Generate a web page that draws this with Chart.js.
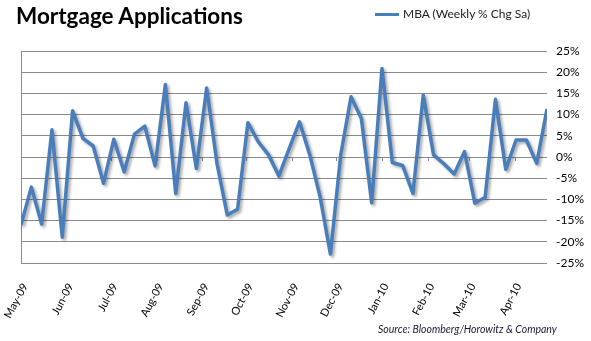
<!DOCTYPE html>
<html>
<head>
<meta charset="utf-8">
<script src="https://cdn.jsdelivr.net/npm/chart.js@4"></script>
<style>
    body { margin: 0; background: #fff; }
    #wrap { position: relative; width: 591px; height: 341px; font-family: Lato, 'Open Sans', sans-serif; }
    #title { position: absolute; left: 16px; top: 2px; font-size: 22.5px; font-weight: bold; color: #000; }
    #legend { position: absolute; left: 375px; top: 6px; font-size: 12px; color: #222; }
    #legend span { display: inline-block; width: 24px; height: 3px; background: #4a7ebb; vertical-align: middle; margin-right: 4px; }
    #source { position: absolute; left: 378px; top: 323px; font-size: 10.5px; font-style: italic; color: #1a1a33; }
</style>
</head>
<body>
<div id="wrap">
    <canvas id="mbaChart"></canvas>
    <div id="title">Mortgage Applications</div>
    <div id="legend"><span></span>MBA (Weekly % Chg Sa)</div>
    <div id="source">Source: Bloomberg/Horowitz &amp; Company</div>
</div>
<script>
// Data mingguan MBA (perubahan % mingguan)
const weekDates = [
    '2009-05-06', '2009-05-13', '2009-05-20', '2009-05-27',
    '2009-06-03', '2009-06-10', '2009-06-17', '2009-06-24',
    '2009-07-01', '2009-07-08', '2009-07-15', '2009-07-22', '2009-07-29',
    '2009-08-05', '2009-08-12', '2009-08-19', '2009-08-26',
    '2009-09-02', '2009-09-09', '2009-09-16', '2009-09-23', '2009-09-30',
    '2009-10-07', '2009-10-14', '2009-10-21', '2009-10-28',
    '2009-11-04', '2009-11-11', '2009-11-18', '2009-11-25',
    '2009-12-02', '2009-12-09', '2009-12-16', '2009-12-23', '2009-12-30',
    '2010-01-06', '2010-01-13', '2010-01-20', '2010-01-27',
    '2010-02-03', '2010-02-10', '2010-02-17', '2010-02-24',
    '2010-03-03', '2010-03-10', '2010-03-17', '2010-03-24', '2010-03-31',
    '2010-04-07', '2010-04-14', '2010-04-21', '2010-04-28'
];
const mbaValues = [
    -16.0, -7.1, -15.8, 6.4, -18.9, 10.9, 4.4, 2.6, -6.2, 4.2,
    -3.5, 5.4, 7.3, -2.1, 17.1, -8.6, 12.8, -2.7, 16.3, -1.5,
    -13.7, -12.3, 8.1, 3.6, 0.5, -4.5, 2.0, 8.3, 0.5, -9.4,
    -22.9, 0.5, 14.2, 9.1, -10.8, 20.9, -1.3, -2.0, -8.6, 14.6,
    0.5, -1.6, -4.0, 1.3, -10.9, -9.5, 13.6, -2.9, 4.0, 4.0,
    -1.5, 11.3
];
const monthTickDates = [
    '2009-05-06', '2009-06-06', '2009-07-06', '2009-08-06', '2009-09-06', '2009-10-06',
    '2009-11-06', '2009-12-06', '2010-01-06', '2010-02-06', '2010-03-06', '2010-04-06'
];
const monthTickLabels = [
    'May-09', 'Jun-09', 'Jul-09', 'Aug-09', 'Sep-09', 'Oct-09',
    'Nov-09', 'Dec-09', 'Jan-10', 'Feb-10', 'Mar-10', 'Apr-10'
];
const yTicks = [-25, -20, -15, -10, -5, 0, 5, 10, 15, 20, 25];

const dayMs = 24 * 3600 * 1000;
const startMs = Date.parse(weekDates[0]);
function dayOf(d) {
    return Math.round((Date.parse(d) - startMs) / dayMs);
}
const monthTickDays = monthTickDates.map(dayOf);
const points = weekDates.map((d, i) => ({ x: dayOf(d), y: mbaValues[i] }));

// garis sumbu kiri, tanda bulan di garis 0%, dan bayangan garis
const excelLook = {
    id: 'excelLook',
    beforeDatasetsDraw(chart) {
        const ctx = chart.ctx;
        const area = chart.chartArea;
        const xs = chart.scales.x;
        const y0 = chart.scales.y.getPixelForValue(0);
        ctx.save();
        ctx.strokeStyle = '#8a8a8a';
        ctx.lineWidth = 1;
        ctx.beginPath();
        ctx.moveTo(Math.round(area.left) + 0.5, area.top);
        ctx.lineTo(Math.round(area.left) + 0.5, area.bottom);
        monthTickDays.forEach(d => {
            const px = Math.round(xs.getPixelForValue(d)) + 0.5;
            ctx.moveTo(px, y0);
            ctx.lineTo(px, y0 + 4);
        });
        ctx.stroke();
        ctx.restore();

        ctx.save();
        ctx.shadowColor = 'rgba(0, 0, 0, 0.35)';
        ctx.shadowBlur = 3;
        ctx.shadowOffsetX = 2;
        ctx.shadowOffsetY = 2;
    },
    afterDatasetsDraw(chart) {
        chart.ctx.restore();
    }
};

const ctx = document.getElementById('mbaChart').getContext('2d');
new Chart(ctx, {
    type: 'line',
    data: {
        datasets: [{
            label: 'MBA (Weekly % Chg Sa)',
            data: points,
            borderColor: '#4a7ebb',
            borderWidth: 3.5,
            borderJoinStyle: 'round',
            pointRadius: 0,
            tension: 0
        }]
    },
    options: {
        responsive: true,
        maintainAspectRatio: false,
        animation: false,
        layout: {
            padding: { left: 21, top: 51, right: 0, bottom: 0 }
        },
        plugins: {
            legend: { display: false },
            tooltip: { enabled: false }
        },
        scales: {
            x: {
                type: 'linear',
                min: 0,
                max: dayOf(weekDates[weekDates.length - 1]),
                afterBuildTicks: scale => {
                    scale.ticks = monthTickDays.map(v => ({ value: v }));
                },
                afterFit: scale => {
                    scale.height = 78;
                    scale.paddingLeft = 0;
                    scale.paddingRight = 0;
                },
                grid: { display: false, drawTicks: false },
                border: { display: false },
                ticks: {
                    autoSkip: false,
                    minRotation: 62,
                    maxRotation: 62,
                    padding: 18,
                    labelOffset: 4,
                    color: '#000',
                    font: { family: 'Lato', size: 11 },
                    callback: value => monthTickLabels[monthTickDays.indexOf(value)] || ''
                }
            },
            y: {
                position: 'right',
                min: -25,
                max: 25,
                afterBuildTicks: scale => {
                    scale.ticks = yTicks.map(v => ({ value: v }));
                },
                afterFit: scale => {
                    scale.width = 44;
                    scale.paddingTop = 0;
                    scale.paddingBottom = 0;
                },
                grid: { color: '#8a8a8a', lineWidth: 1, drawTicks: false },
                border: { display: false },
                ticks: {
                    padding: 9,
                    color: '#000',
                    font: { family: 'Lato', size: 12 },
                    callback: value => value + '%'
                }
            }
        }
    },
    plugins: [excelLook]
});
</script>
</body>
</html>
